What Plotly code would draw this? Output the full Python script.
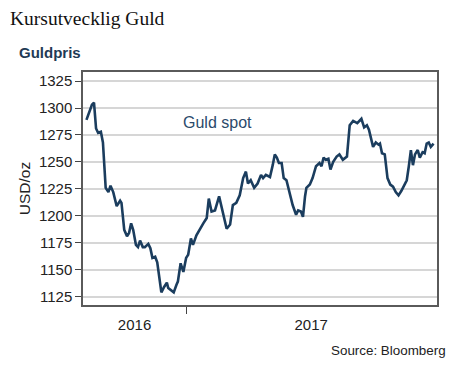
import plotly.graph_objects as go

dates = [
    "2016-08-09", "2016-08-17", "2016-08-20", "2016-08-23", "2016-08-26", "2016-08-30",
    "2016-09-02", "2016-09-05", "2016-09-06", "2016-09-10", "2016-09-13", "2016-09-17",
    "2016-09-22", "2016-09-27", "2016-09-29", "2016-10-03", "2016-10-07", "2016-10-10",
    "2016-10-13", "2016-10-16", "2016-10-20", "2016-10-23", "2016-10-26", "2016-10-30",
    "2016-11-02", "2016-11-07", "2016-11-10", "2016-11-13", "2016-11-17", "2016-11-20",
    "2016-11-24", "2016-11-26", "2016-11-30", "2016-12-04", "2016-12-06", "2016-12-11",
    "2016-12-14", "2016-12-18", "2016-12-20", "2016-12-24", "2016-12-28",
    "2017-01-01", "2017-01-04", "2017-01-08", "2017-01-11", "2017-01-16", "2017-01-21",
    "2017-01-26", "2017-01-31", "2017-02-03", "2017-02-07", "2017-02-12", "2017-02-18",
    "2017-02-23", "2017-03-01", "2017-03-06", "2017-03-10", "2017-03-15", "2017-03-20",
    "2017-03-25", "2017-03-29", "2017-04-01", "2017-04-05", "2017-04-10", "2017-04-15",
    "2017-04-20", "2017-04-23", "2017-04-27", "2017-05-03", "2017-05-07", "2017-05-10",
    "2017-05-13", "2017-05-16", "2017-05-20", "2017-05-23", "2017-05-27", "2017-05-31",
    "2017-06-05", "2017-06-10", "2017-06-13", "2017-06-17", "2017-06-20", "2017-06-23",
    "2017-06-25", "2017-06-30", "2017-07-04", "2017-07-09", "2017-07-14", "2017-07-17",
    "2017-07-20", "2017-07-23", "2017-07-27", "2017-07-30", "2017-08-03", "2017-08-08",
    "2017-08-12", "2017-08-17", "2017-08-20", "2017-08-23", "2017-08-27", "2017-09-01",
    "2017-09-07", "2017-09-13", "2017-09-17", "2017-09-21", "2017-09-24", "2017-09-28",
    "2017-09-30", "2017-10-04", "2017-10-08", "2017-10-10", "2017-10-13", "2017-10-17",
    "2017-10-21", "2017-10-25", "2017-10-29", "2017-11-02", "2017-11-06", "2017-11-10",
    "2017-11-14", "2017-11-18", "2017-11-21", "2017-11-24", "2017-11-27", "2017-11-30",
    "2017-12-04", "2017-12-07", "2017-12-11", "2017-12-14", "2017-12-17", "2017-12-20",
    "2017-12-23", "2017-12-27",
]

gold_spot = [
    1289, 1303, 1305, 1281, 1277, 1278,
    1268, 1243, 1226, 1222, 1228, 1222,
    1209, 1214, 1212, 1187, 1181, 1184,
    1193, 1187, 1173, 1171, 1177, 1171,
    1171, 1174, 1170, 1161, 1162, 1157,
    1136, 1129, 1134, 1138, 1133, 1131,
    1129, 1136, 1139, 1156, 1148,
    1161, 1164, 1179, 1173, 1182, 1188,
    1193, 1198, 1216, 1204, 1205, 1218,
    1204, 1188, 1192, 1210, 1212, 1219,
    1235, 1241, 1230, 1233, 1226, 1230,
    1238, 1235, 1238, 1236, 1247, 1257,
    1254, 1249, 1249, 1235, 1233, 1222,
    1210, 1201, 1205, 1204, 1199, 1218,
    1226, 1229, 1235, 1246, 1249, 1246,
    1254, 1252, 1253, 1243, 1250, 1255,
    1257, 1252, 1254, 1255, 1284, 1288,
    1286, 1290, 1282, 1284, 1280, 1268,
    1264, 1268, 1266, 1267, 1258, 1257,
    1235, 1229, 1227, 1222, 1219, 1223,
    1228, 1233, 1246, 1261, 1247, 1257,
    1261, 1254, 1259, 1258, 1267, 1268,
    1264, 1267,
]

year_labels = ["2016", "2017"]
year_label_dates = ["2016-10-18", "2017-07-02"]
year_boundaries = ["2017-01-01"]
y_ticks = [1125, 1150, 1175, 1200, 1225, 1250, 1275, 1300, 1325]

line_color = "#1b3d5e"
frame_color = "#5a5a5a"

# page body has an 8px default margin, so the figure is sized to fit the window
W, H = 457, 362
L, T = 75, 64
PW, PH = 354, 233


def px(fx):
    return (fx - L) / PW


def py(fy):
    return 1 - (fy - T) / PH


fig = go.Figure()
fig.add_trace(go.Scatter(
    x=dates, y=gold_spot, mode="lines",
    line=dict(color=line_color, width=2.6),
    showlegend=False, hoverinfo="x+y",
))

fig.update_layout(
    width=W, height=H,
    margin=dict(l=L, r=W - L - PW, t=T, b=H - T - PH),
    paper_bgcolor="white", plot_bgcolor="white",
    font=dict(family="Liberation Sans, Arial, sans-serif", color="#222222", size=15),
    xaxis=dict(
        range=["2016-08-04", "2018-01-01"],
        tickmode="array", tickvals=year_label_dates, ticktext=year_labels,
        ticks="", showgrid=False, zeroline=False,
        showline=True, linecolor=frame_color, linewidth=1.5, mirror=True,
        tickfont=dict(size=15, color="#222222"),
        ticklabelstandoff=5,
        minor=dict(tickmode="array", tickvals=year_boundaries, ticks="outside",
                   ticklen=7, tickwidth=1.2, tickcolor="#444444", showgrid=False),
    ),
    yaxis=dict(
        range=[1117.3, 1333.4],
        tickmode="array", tickvals=y_ticks,
        ticks="outside", ticklen=6, tickwidth=1.2, tickcolor="#444444",
        showgrid=True, gridcolor="#d6d6d6", gridwidth=2,
        zeroline=False,
        showline=True, linecolor=frame_color, linewidth=1.5, mirror=True,
        tickfont=dict(size=15, color="#222222"),
        title=dict(text="USD/oz", font=dict(size=15.5, color="#222222"), standoff=4),
    ),
    annotations=[
        dict(text="Kursutvecklig Guld", xref="paper", yref="paper",
             x=px(0), y=py(10.5), xanchor="left", yanchor="middle",
             showarrow=False,
             font=dict(family="Liberation Serif, Times New Roman, serif", size=19.5, color="#111111")),
        dict(text="<b>Guldpris</b>", xref="paper", yref="paper",
             x=px(9), y=py(44), xanchor="left", yanchor="middle",
             showarrow=False,
             font=dict(size=15, color="#1f3a55")),
        dict(text="Guld spot", xref="x", yref="y",
             x="2017-02-16", y=1286.3, xanchor="center", yanchor="middle",
             showarrow=False,
             font=dict(size=16, color="#2b4a6b")),
        dict(text="Source: Bloomberg", xref="paper", yref="paper",
             x=px(440), y=py(342), xanchor="right", yanchor="middle",
             showarrow=False,
             font=dict(size=13.4, color="#222222")),
    ],
)

fig.write_html("out.html")
